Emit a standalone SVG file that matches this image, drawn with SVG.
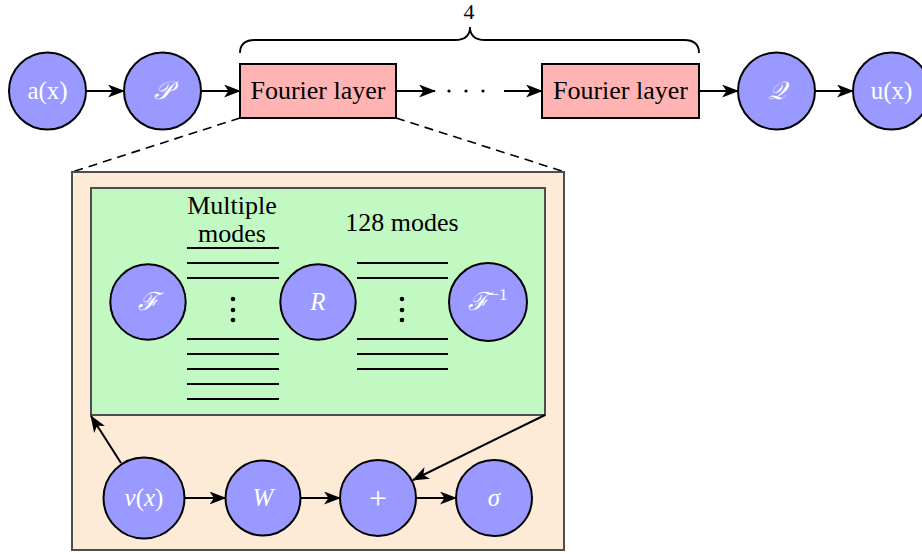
<svg xmlns="http://www.w3.org/2000/svg" width="922" height="554" viewBox="0 0 922 554">
  <style>
    .node { fill: #9999ff; stroke: #000; stroke-width: 2; }
    .fl { fill: #ffb3b3; stroke: #000; stroke-width: 2; }
    .lbl { font-family: "Liberation Serif", "DejaVu Serif", serif; font-size: 26px; text-anchor: middle; }
    .wlbl { font-family: "Liberation Serif", "DejaVu Serif", serif; font-size: 25px; text-anchor: middle; fill: #fff; }
    .math { font-style: italic; }
    .edge { stroke: #000; stroke-width: 2; fill: none; marker-end: url(#arrow); }
    .mode { stroke: #000; stroke-width: 2; }
    .dash { stroke: #000; stroke-width: 1.6; stroke-dasharray: 9 6; fill: none; }
  </style>
  <defs>
    <marker id="arrow" viewBox="0 0 17 13" refX="16" refY="6.5" markerWidth="17" markerHeight="13" markerUnits="userSpaceOnUse" orient="auto">
      <path d="M0,0 L17,6.5 L0,13 L4.5,6.5 Z" fill="#000"/>
    </marker>
  </defs>

  <!-- repeat brace over the Fourier layers -->
  <path d="M240,53 Q240,40 255,40 H455 Q470,40 470,27 Q470,40 485,40 H684 Q699,40 699,53" fill="none" stroke="#000" stroke-width="1.8"/>
  <text class="lbl" x="469" y="19" style="font-size:22px">4</text>

  <!-- zoom lines from the first Fourier layer -->
  <path class="dash" d="M240,118 L72,172 M396,118 L565,172"/>

  <!-- expanded Fourier layer panel -->
  <g id="layer-detail">
    <rect x="72" y="172" width="492" height="378" fill="#fdebd8" stroke="#4d4d4d" stroke-width="2"/>
    <rect x="91" y="188" width="454" height="227" fill="#c2f9c2" stroke="#4d4d4d" stroke-width="2"/>
  </g>

  <!-- top row nodes -->
  <g id="a">
    <circle class="node" cx="47.5" cy="91" r="38.5"/>
    <text class="wlbl" x="47.5" y="99">a(x)</text>
  </g>
  <g id="P">
    <circle class="node" cx="162.5" cy="91" r="38.5"/>
    <text class="wlbl math" x="162.5" y="99" font-family="DejaVu Serif, serif">𝒫</text>
  </g>
  <g id="fl1">
    <rect class="fl" x="240" y="64" width="156" height="54"/>
    <text class="lbl" x="318" y="99">Fourier layer</text>
  </g>
  <g id="dots">
    <circle cx="449" cy="91" r="1.6"/>
    <circle cx="466" cy="91" r="1.6"/>
    <circle cx="483" cy="91" r="1.6"/>
  </g>
  <g id="fl2">
    <rect class="fl" x="542" y="64" width="157" height="54"/>
    <text class="lbl" x="620.5" y="99">Fourier layer</text>
  </g>
  <g id="Q">
    <circle class="node" cx="776.5" cy="91" r="38.5"/>
    <text class="wlbl math" x="776.5" y="99" font-family="DejaVu Serif, serif">𝒬</text>
  </g>
  <g id="u">
    <circle class="node" cx="891.5" cy="91" r="38.5"/>
    <text class="wlbl" x="891.5" y="99">u(x)</text>
  </g>

  <!-- spectral convolution nodes -->
  <g id="F">
    <circle class="node" cx="148" cy="302" r="37.7"/>
    <text class="wlbl math" x="148" y="310">ℱ</text>
  </g>
  <g id="R">
    <circle class="node" cx="318" cy="302" r="37.7"/>
    <text class="wlbl math" x="318" y="310">R</text>
  </g>
  <g id="Finv">
    <circle class="node" cx="488" cy="302" r="39"/>
    <text class="wlbl" x="488" y="310"><tspan class="math">ℱ</tspan><tspan style="font-size:17px" dy="-10">−1</tspan></text>
  </g>

  <!-- mode labels and lines -->
  <g id="modes-left">
    <text class="lbl" x="232" y="214">Multiple</text>
    <text class="lbl" x="232" y="242">modes</text>
    <path class="mode" d="M187,248 H279 M187,263 H279 M187,278 H279 M187,339 H279 M187,354 H279 M187,369 H279 M187,384 H279 M187,399 H279"/>
    <circle cx="233" cy="299" r="2.3"/>
    <circle cx="233" cy="310" r="2.3"/>
    <circle cx="233" cy="320" r="2.3"/>
  </g>
  <g id="modes-right">
    <text class="lbl" x="402" y="231">128 modes</text>
    <path class="mode" d="M357,263 H448 M357,278 H448 M357,339 H448 M357,354 H448 M357,369 H448"/>
    <circle cx="402" cy="299" r="2.3"/>
    <circle cx="402" cy="310" r="2.3"/>
    <circle cx="402" cy="320" r="2.3"/>
  </g>

  <!-- bottom row nodes -->
  <g id="nu">
    <circle class="node" cx="144" cy="498" r="40.5"/>
    <text class="wlbl" x="144" y="506"><tspan class="math">ν</tspan>(<tspan class="math">x</tspan>)</text>
  </g>
  <g id="W">
    <circle class="node" cx="263" cy="498" r="37.5"/>
    <text class="wlbl math" x="263" y="506">W</text>
  </g>
  <g id="plus">
    <circle class="node" cx="378" cy="498" r="38"/>
    <text class="wlbl" x="378" y="509" style="font-size:32px">+</text>
  </g>
  <g id="sigma">
    <circle class="node" cx="494" cy="498" r="38"/>
    <text class="wlbl math" x="494" y="506">σ</text>
  </g>

  <!-- connectors -->
  <g id="edges">
    <path class="edge" d="M86,91 H124"/>
    <path class="edge" d="M201,91 H240"/>
    <path class="edge" d="M396,91 H435"/>
    <path class="edge" d="M504,91 H542"/>
    <path class="edge" d="M699,91 H738"/>
    <path class="edge" d="M815,91 H853"/>
    <path class="edge" d="M185,498 H225.5"/>
    <path class="edge" d="M300.5,498 H340"/>
    <path class="edge" d="M416,498 H456"/>
    <path class="edge" d="M121,463 L91,416"/>
    <path class="edge" d="M545,415 L413,480"/>
  </g>
</svg>
